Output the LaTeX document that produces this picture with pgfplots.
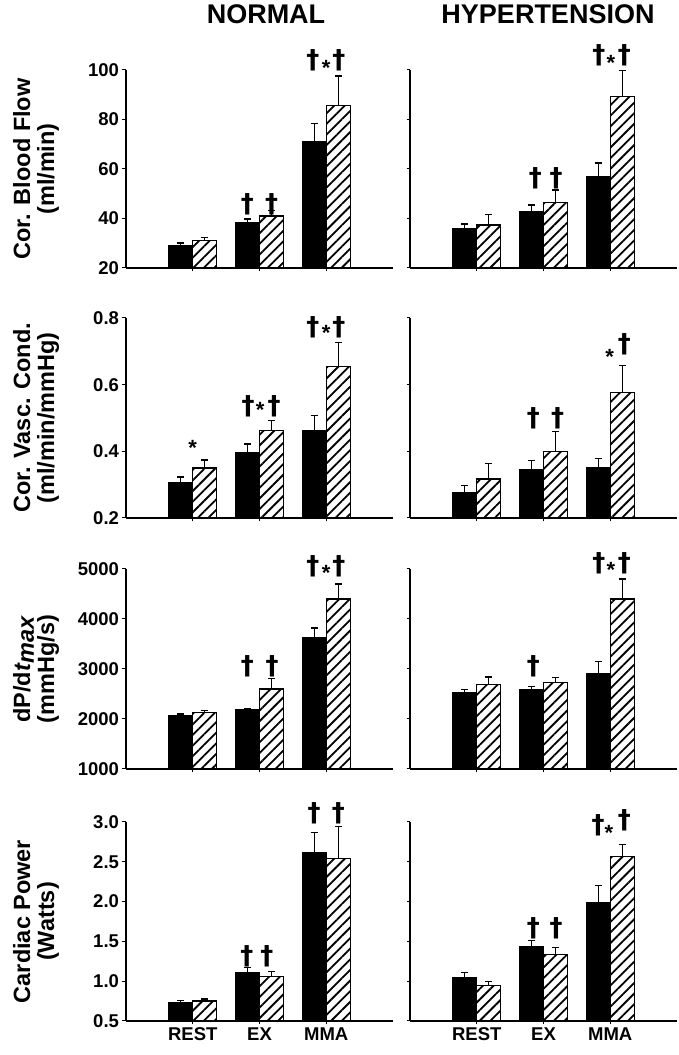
\documentclass[border=0pt]{standalone}
\usepackage{fontspec}
\setmainfont{Liberation Sans}
\newfontfamily\dgfont{DejaVu Sans}
\usepackage{pgfplots}
\pgfplotsset{compat=1.18}
\usetikzlibrary{patterns.meta}

\pgfplotsset{
  panel/.style={
    scale only axis, width=267pt,
    xmin=0, xmax=4, xtick={1,2,3}, xticklabels={},
    axis x line*=bottom, axis y line*=left,
    x axis line style={-, line width=2pt},
    y axis line style={-, line width=1.2pt},
    tick align=outside, major tick length=3.5pt,
    tick style={black, line width=1pt},
    yticklabel style={font=\bfseries\fontsize{18.5}{20}\selectfont},
    xticklabel style={font=\bfseries\fontsize{18.5}{20}\selectfont},
    scaled y ticks=false,
    clip mode=individual, axis on top,
    ylabel style={font=\bfseries\fontsize{23.5}{24}\selectfont, align=center,
      at={(axis description cs:-0.337,0.5)}, anchor=center},
  },
  errs/.style={error bars/.cd, y dir=plus, y explicit,
      error bar style={line width=1.4pt, black},
      error mark options={rotate=90, line width=1.4pt, mark size=3.5pt, black}},
  blackbar/.style={ybar, bar width=24pt, bar shift=0pt, fill=black, draw=black, line width=1pt, errs},
  hatchbar/.style={ybar, bar width=24pt, bar shift=0pt, draw=black, line width=1.2pt,
      pattern={Lines[angle=45,distance=7.5pt,line width=1.8pt]}, pattern color=black, errs},
}
\tikzset{ann/.style={font=\dgfont\bfseries\fontsize{26}{26}\selectfont, inner sep=0pt, anchor=center},
         ast/.style={font=\bfseries\fontsize{22}{22}\selectfont, inner sep=0pt, anchor=center}}

\begin{document}
\begin{tikzpicture}
\node[font=\bfseries\fontsize{27}{27}\selectfont, anchor=base] at (266pt,1031pt) {NORMAL};
\node[font=\bfseries\fontsize{27}{27}\selectfont, anchor=base] at (548pt,1031pt) {HYPERTENSION};

% ---------------- Row 1 ----------------
\begin{axis}[panel, height=198pt, at={(126pt,787pt)}, anchor=south west,
  ymin=20, ymax=100, ytick={20,40,60,80,100}, yticklabels={20,40,60,80,100},
  ylabel={Cor. Blood Flow\\(ml/min)}]
\addplot[blackbar] coordinates {(0.82,29) +- (0,1.1) (1.82,38.5) +- (0,1.3) (2.82,71) +- (0,7.5)};
\addplot[hatchbar] coordinates {(1.18,31) +- (0,1.2) (2.18,41) +- (0,2.3) (3.18,85.5) +- (0,12.1)};
\node[ann] at (axis cs:1.82,45.9) {†};
\node[ann] at (axis cs:2.18,45.9) {†};
\node[ann] at (axis cs:2.8,104) {†};
\node[ast] at (axis cs:3.0,101) {*};
\node[ann] at (axis cs:3.19,104) {†};
\end{axis}
\begin{axis}[panel, height=198pt, at={(410pt,787pt)}, anchor=south west,
  ymin=20, ymax=100, ytick={20,40,60,80,100}, yticklabels={}]
\addplot[blackbar] coordinates {(0.82,35.9) +- (0,1.9) (1.82,43) +- (0,2.5) (2.82,56.9) +- (0,5.6)};
\addplot[hatchbar] coordinates {(1.18,37.4) +- (0,4.3) (2.18,46.4) +- (0,5.1) (3.18,89.2) +- (0,10.7)};
\node[ann] at (axis cs:1.88,56.4) {†};
\node[ann] at (axis cs:2.19,56.4) {†};
\node[ann] at (axis cs:2.83,106) {†};
\node[ast] at (axis cs:3.01,103) {*};
\node[ann] at (axis cs:3.21,106) {†};
\end{axis}

% ---------------- Row 2 ----------------
\begin{axis}[panel, height=200pt, at={(126pt,537pt)}, anchor=south west,
  ymin=0.2, ymax=0.8, ytick={0.2,0.4,0.6,0.8}, yticklabels={0.2,0.4,0.6,0.8},
  ylabel={Cor. Vasc. Cond.\\(ml/min/mmHg)}]
\addplot[blackbar] coordinates {(0.82,0.305) +- (0,0.018) (1.82,0.397) +- (0,0.025) (2.82,0.463) +- (0,0.044)};
\addplot[hatchbar] coordinates {(1.18,0.35) +- (0,0.024) (2.18,0.462) +- (0,0.03) (3.18,0.655) +- (0,0.072)};
\node[ast] at (axis cs:1.0,0.41) {*};
\node[ann] at (axis cs:1.83,0.535) {†};
\node[ast] at (axis cs:2.01,0.525) {*};
\node[ann] at (axis cs:2.22,0.535) {†};
\node[ann] at (axis cs:2.8,0.771) {†};
\node[ast] at (axis cs:3.0,0.756) {*};
\node[ann] at (axis cs:3.19,0.771) {†};
\end{axis}
\begin{axis}[panel, height=200pt, at={(410pt,537pt)}, anchor=south west,
  ymin=0.2, ymax=0.8, ytick={0.2,0.4,0.6,0.8}, yticklabels={}]
\addplot[blackbar] coordinates {(0.82,0.277) +- (0,0.02) (1.82,0.344) +- (0,0.028) (2.82,0.35) +- (0,0.029)};
\addplot[hatchbar] coordinates {(1.18,0.317) +- (0,0.046) (2.18,0.4) +- (0,0.06) (3.18,0.576) +- (0,0.081)};
\node[ann] at (axis cs:1.85,0.5) {†};
\node[ann] at (axis cs:2.21,0.5) {†};
\node[ast] at (axis cs:2.99,0.683) {*};
\node[ann] at (axis cs:3.21,0.72) {†};
\end{axis}

% ---------------- Row 3 ----------------
\begin{axis}[panel, height=200pt, at={(126pt,286pt)}, anchor=south west,
  ymin=1000, ymax=5000, ytick={1000,2000,3000,4000,5000}, yticklabels={1000,2000,3000,4000,5000},
  ylabel={dP/d\textit{t}\raisebox{-0.3ex}{\textit{max}}\\(mmHg/s)}]
\addplot[blackbar] coordinates {(0.82,2066) +- (0,34) (1.82,2187) +- (0,15) (2.82,3620) +- (0,200)};
\addplot[hatchbar] coordinates {(1.18,2133) +- (0,40) (2.18,2600) +- (0,213) (3.18,4400) +- (0,300)};
\node[ann] at (axis cs:1.82,3053) {†};
\node[ann] at (axis cs:2.19,3053) {†};
\node[ann] at (axis cs:2.8,5053) {†};
\node[ast] at (axis cs:3.0,4920) {*};
\node[ann] at (axis cs:3.19,5053) {†};
\end{axis}
\begin{axis}[panel, height=200pt, at={(410pt,286pt)}, anchor=south west,
  ymin=1000, ymax=5000, ytick={1000,2000,3000,4000,5000}, yticklabels={}]
\addplot[blackbar] coordinates {(0.82,2520) +- (0,67) (1.82,2587) +- (0,60) (2.82,2907) +- (0,246)};
\addplot[hatchbar] coordinates {(1.18,2687) +- (0,153) (2.18,2727) +- (0,100) (3.18,4400) +- (0,400)};
\node[ann] at (axis cs:1.85,3053) {†};
\node[ann] at (axis cs:2.83,5120) {†};
\node[ast] at (axis cs:3.01,4973) {*};
\node[ann] at (axis cs:3.21,5120) {†};
\end{axis}

% ---------------- Row 4 ----------------
\begin{axis}[panel, height=199pt, at={(126pt,34pt)}, anchor=south west,
  ymin=0.5, ymax=3.0, ytick={0.5,1.0,1.5,2.0,2.5,3.0}, yticklabels={0.5,1.0,1.5,2.0,2.5,3.0},
  xticklabels={REST,EX,MMA},
  ylabel={Cardiac Power\\(Watts)}]
\addplot[blackbar] coordinates {(0.82,0.735) +- (0,0.02) (1.82,1.106) +- (0,0.063) (2.82,2.62) +- (0,0.247)};
\addplot[hatchbar] coordinates {(1.18,0.75) +- (0,0.026) (2.18,1.056) +- (0,0.063) (3.18,2.54) +- (0,0.4)};
\node[ann] at (axis cs:1.81,1.307) {†};
\node[ann] at (axis cs:2.11,1.307) {†};
\node[ann] at (axis cs:2.82,3.106) {†};
\node[ann] at (axis cs:3.18,3.106) {†};
\end{axis}
\begin{axis}[panel, height=199pt, at={(410pt,34pt)}, anchor=south west,
  ymin=0.5, ymax=3.0, ytick={0.5,1.0,1.5,2.0,2.5,3.0}, yticklabels={},
  xticklabels={REST,EX,MMA}]
\addplot[blackbar] coordinates {(0.82,1.044) +- (0,0.062) (1.82,1.441) +- (0,0.071) (2.82,1.993) +- (0,0.213)};
\addplot[hatchbar] coordinates {(1.18,0.943) +- (0,0.05) (2.18,1.337) +- (0,0.088) (3.18,2.57) +- (0,0.147)};
\node[ann] at (axis cs:1.85,1.663) {†};
\node[ann] at (axis cs:2.19,1.663) {†};
\node[ann] at (axis cs:2.82,2.96) {†};
\node[ast] at (axis cs:2.98,2.86) {*};
\node[ann] at (axis cs:3.21,3.02) {†};
\end{axis}
\pgfresetboundingbox
\useasboundingbox (0pt,0pt) rectangle (679pt,1055pt);
\end{tikzpicture}
\end{document}
